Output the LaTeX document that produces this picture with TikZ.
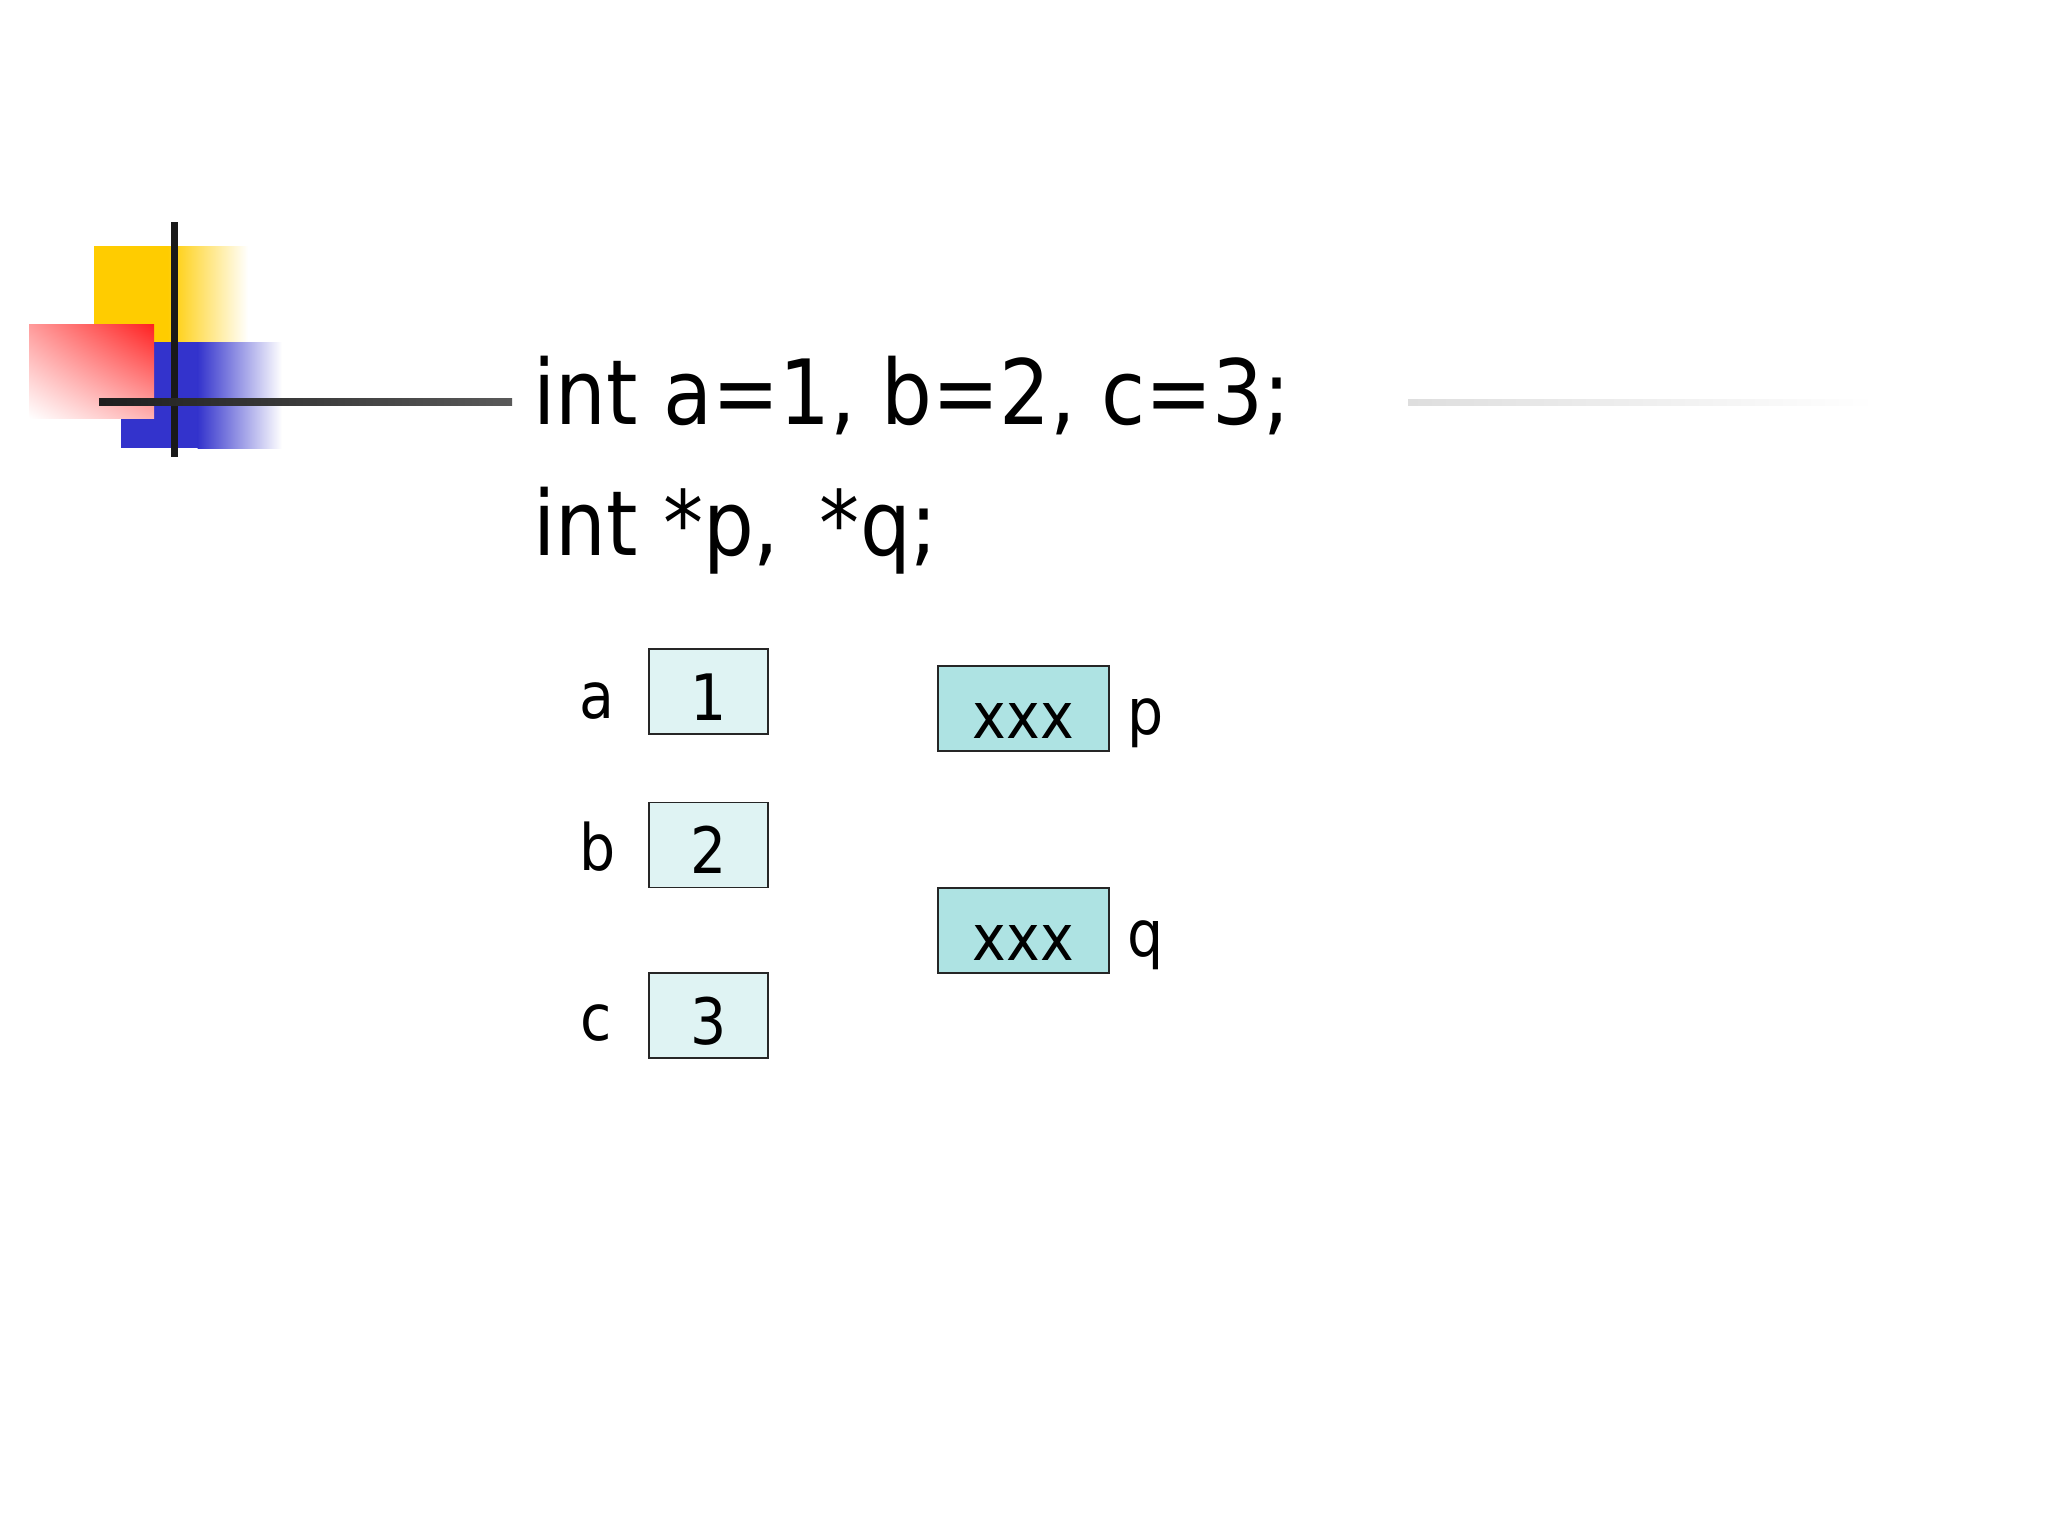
\documentclass[tikz,border=0pt]{standalone}
\usepackage{fontspec}
\setmainfont[FakeStretch=0.89]{DejaVu Sans}
\usetikzlibrary{shadings}
\begin{document}
\begin{tikzpicture}[x=1pt,y=-1pt,
  codetext/.style={anchor=base west,inner sep=0pt,font=\fontsize{90}{100}\selectfont},
  lbl/.style={anchor=base,inner sep=0pt,font=\fontsize{64}{70}\selectfont},
  valbox/.style={draw=black!85,line width=1.6pt,fill=valfill,minimum width=119pt,minimum height=85pt,inner sep=0pt,text height=57pt,text depth=0pt,font=\fontsize{64}{70}\selectfont},
  ptrbox/.style={draw=black!85,line width=1.6pt,fill=ptrfill,minimum width=171pt,minimum height=85pt,inner sep=0pt,text height=59pt,text depth=0pt,font=\fontsize{64}{70}\selectfont}]
\definecolor{ptrfill}{HTML}{AEE3E3}
\definecolor{valfill}{HTML}{DFF3F3}
\definecolor{yel}{HTML}{FFCC00}
\definecolor{blu}{HTML}{3333CC}
\definecolor{rd}{HTML}{FF2020}
\useasboundingbox (0,0) rectangle (2048,1536);
\fill[white] (0,0) rectangle (2048,1536);
% decoration
\fill[yel] (94,246) rectangle (168,342);
\shade[left color=yel,right color=white] (167.5,246) rectangle (248,342);
\fill[blu] (121,342) rectangle (198,448);
\shade[left color=blu,right color=white] (197.5,342) rectangle (282,448);
\shade[upper right=rd,upper left=rd!45,lower right=rd!35,lower left=white] (29,324) rectangle (154,418);
\fill[black!90] (170.5,222) rectangle (177.5,457);
\shade[left color=black!88,right color=black!65] (99,398.5) rectangle (512,405.5);
\shade[left color=black!13,right color=white] (1408,399) rectangle (1874,405);
% code
\node[codetext] (code1) at (533,424) {int a=1, b=2, c=3;};
\node[codetext] (code2) at (533,555) {int *p,\, *q;};
% value boxes
\node[valbox] (va) at (708.5,691.5) {1};
\node[valbox] (vb) at (708.5,845) {2};
\node[valbox] (vc) at (708.5,1015.5) {3};
\node[ptrbox] (vp) at (1023.5,708.5) {xxx};
\node[ptrbox] (vq) at (1023.5,930.5) {xxx};
% labels
\node[lbl] (la) at (597,718) {a};
\node[lbl] (lb) at (598,870) {b};
\node[lbl] (lc) at (596,1040) {c};
\node[lbl] (lp) at (1146,734) {p};
\node[lbl] (lq) at (1146,956) {q};
\end{tikzpicture}
\end{document}
